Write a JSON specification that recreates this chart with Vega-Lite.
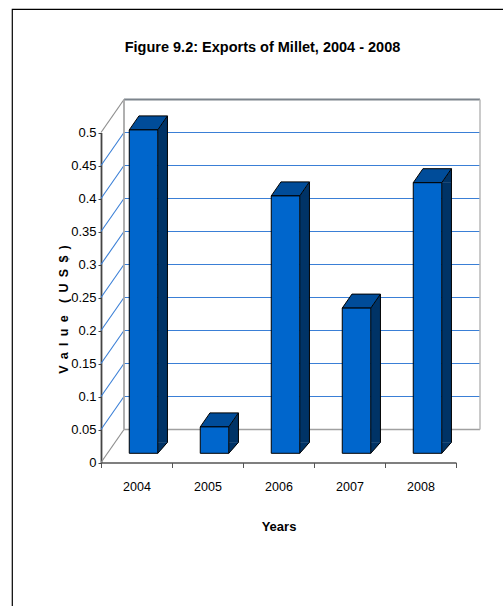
{
  "$schema": "https://vega.github.io/schema/vega-lite/v6.json",
  "width": 491,
  "height": 597,
  "autosize": {"type": "none"},
  "padding": {"left": 12, "top": 9, "right": 0, "bottom": 0},
  "background": "white",
  "title": {
    "text": "Figure 9.2: Exports of Millet, 2004 - 2008",
    "anchor": "middle",
    "frame": "group",
    "font": "Liberation Sans",
    "fontWeight": "bold",
    "fontSize": 14.5,
    "color": "black",
    "baseline": "alphabetic",
    "offset": -57,
    "dx": 5
  },
  "config": {
    "view": {"stroke": "black", "strokeWidth": 1.2, "strokeDash": [491, 1088, 597]}
  },
  "datasets": {
    "exports": [
      {"year": "2004", "value": 0.49},
      {"year": "2005", "value": 0.04},
      {"year": "2006", "value": 0.39},
      {"year": "2007", "value": 0.22},
      {"year": "2008", "value": 0.41}
    ],
    "levels": [
      {"v": 0}, {"v": 0.05}, {"v": 0.1}, {"v": 0.15}, {"v": 0.2}, {"v": 0.25},
      {"v": 0.3}, {"v": 0.35}, {"v": 0.4}, {"v": 0.45}, {"v": 0.5}
    ]
  },
  "layer": [
    {
      "data": {"name": "levels"},
      "transform": [{"filter": "datum.v > 0 && datum.v < 0.5"}],
      "mark": {"type": "rule", "color": "#3a7fd6", "strokeWidth": 1.2, "xOffset": -12.5, "x2Offset": 59.5, "yOffset": -33},
      "encoding": {
        "x": {
          "datum": "2004",
          "type": "ordinal",
          "scale": {"domain": ["2004", "2005", "2006", "2007", "2008"], "range": [89, 444], "paddingInner": 0, "paddingOuter": 0},
          "axis": {
            "orient": "bottom",
            "offset": -143.5,
            "tickBand": "extent",
            "tickSize": 5,
            "tickColor": "#555555",
            "domainColor": "#555555",
            "domainWidth": 1.5,
            "labelAngle": 0,
            "labelFont": "Liberation Sans",
            "labelFontSize": 12.5,
            "labelColor": "black",
            "labelPadding": 12.5,
            "title": "Years",
            "titleFont": "Liberation Sans",
            "titleFontWeight": "bold",
            "titleFontSize": 13,
            "titleColor": "black",
            "titleBaseline": "alphabetic",
            "titleY": 67.5
          }
        },
        "x2": {"datum": "2008"},
        "y": {
          "field": "v",
          "type": "quantitative",
          "scale": {"domain": [0, 0.5], "range": [453.5, 123.5], "nice": false, "zero": true},
          "axis": {
            "orient": "left",
            "offset": -89,
            "values": [0, 0.05, 0.1, 0.15, 0.2, 0.25, 0.3, 0.35, 0.4, 0.45, 0.5],
            "format": "~g",
            "grid": false,
            "tickSize": 3,
            "tickColor": "#444444",
            "domainColor": "#444444",
            "domainWidth": 1.8,
            "labelFont": "Liberation Sans",
            "labelFontSize": 13,
            "labelColor": "black",
            "labelPadding": 2,
            "title": "V\u2002a\u2002l\u2002u\u2002e\u2002\u2002(\u2002U\u2002S\u2002$\u2002)",
            "titleFont": "Liberation Sans",
            "titleFontWeight": "bold",
            "titleFontSize": 12.5,
            "titleColor": "black",
            "titleAngle": -90,
            "titleAlign": "center",
            "titleBaseline": "middle",
            "titleX": -38,
            "titleY": 300
          }
        }
      }
    },
    {
      "data": {"name": "levels"},
      "transform": [{"filter": "datum.v == 0.5"}],
      "mark": {"type": "rule", "color": "#7c848c", "strokeWidth": 2, "xOffset": -12.5, "x2Offset": 59.5, "yOffset": -33},
      "encoding": {
        "x": {"datum": "2004", "type": "ordinal"},
        "x2": {"datum": "2008"},
        "y": {"field": "v", "type": "quantitative"}
      }
    },
    {
      "data": {"name": "levels"},
      "transform": [{"filter": "datum.v == 0"}],
      "mark": {"type": "rule", "color": "#a0a0a0", "strokeWidth": 1.5, "xOffset": -12.5, "x2Offset": 59.5, "yOffset": -33},
      "encoding": {
        "x": {"datum": "2004", "type": "ordinal"},
        "x2": {"datum": "2008"},
        "y": {"field": "v", "type": "quantitative"}
      }
    },
    {
      "data": {"name": "levels"},
      "transform": [{"filter": "datum.v > 0 && datum.v < 0.5"}],
      "mark": {"type": "rule", "color": "#3a7fd6", "strokeWidth": 1.1, "xOffset": -35.5, "x2Offset": -12.5, "y2Offset": -33},
      "encoding": {
        "x": {"datum": "2004", "type": "ordinal"},
        "x2": {"datum": "2004"},
        "y": {"field": "v", "type": "quantitative"},
        "y2": {"field": "v"}
      }
    },
    {
      "data": {"name": "levels"},
      "transform": [{"filter": "datum.v == 0 || datum.v == 0.5"}],
      "mark": {"type": "rule", "color": "#909090", "strokeWidth": 1.2, "xOffset": -35.5, "x2Offset": -12.5, "y2Offset": -33},
      "encoding": {
        "x": {"datum": "2004", "type": "ordinal"},
        "x2": {"datum": "2004"},
        "y": {"field": "v", "type": "quantitative"},
        "y2": {"field": "v"}
      }
    },
    {
      "data": {"name": "levels"},
      "transform": [{"filter": "datum.v == 0"}],
      "mark": {"type": "rule", "color": "#a8a8a8", "strokeWidth": 1.8, "xOffset": -12.5, "yOffset": -33, "y2Offset": -33},
      "encoding": {
        "x": {"datum": "2004", "type": "ordinal"},
        "y": {"field": "v", "type": "quantitative"},
        "y2": {"datum": 0.5}
      }
    },
    {
      "data": {"name": "levels"},
      "transform": [{"filter": "datum.v == 0"}],
      "mark": {"type": "rule", "color": "#b8b8b8", "strokeWidth": 1.5, "xOffset": 59.5, "yOffset": -33, "y2Offset": -33},
      "encoding": {
        "x": {"datum": "2008", "type": "ordinal"},
        "y": {"field": "v", "type": "quantitative"},
        "y2": {"datum": 0.5}
      }
    },
    {
      "data": {"name": "exports"},
      "mark": {"type": "bar", "width": 9.7, "color": "#003366", "xOffset": 26.1, "yOffset": -9.2, "y2Offset": -20.2},
      "encoding": {
        "x": {"field": "year", "type": "ordinal"},
        "y": {"field": "value", "type": "quantitative"},
        "y2": {"datum": 0}
      }
    },
    {
      "data": {"name": "exports"},
      "mark": {"type": "point", "shape": "M0,0L9.7,-14L9.7,0Z", "size": 4, "filled": true, "opacity": 1, "color": "#003366", "stroke": "#003366", "strokeWidth": 0.5, "xOffset": 21.25, "yOffset": -9.2},
      "encoding": {
        "x": {"field": "year", "type": "ordinal"},
        "y": {"field": "value", "type": "quantitative"}
      }
    },
    {
      "data": {"name": "exports"},
      "mark": {"type": "point", "shape": "M0,0L0,-11L9.7,-11Z", "size": 4, "filled": true, "opacity": 1, "color": "#003366", "stroke": "#003366", "strokeWidth": 0.5, "xOffset": 21.25, "yOffset": -9.2},
      "encoding": {
        "x": {"field": "year", "type": "ordinal"},
        "y": {"datum": 0, "type": "quantitative"}
      }
    },
    {
      "data": {"name": "exports"},
      "mark": {"type": "rule", "color": "black", "strokeWidth": 1, "xOffset": 30.95, "yOffset": -23.2, "y2Offset": -20.2},
      "encoding": {
        "x": {"field": "year", "type": "ordinal"},
        "y": {"field": "value", "type": "quantitative"},
        "y2": {"datum": 0}
      }
    },
    {
      "data": {"name": "exports"},
      "mark": {"type": "rule", "color": "black", "strokeWidth": 1, "xOffset": 21.25, "x2Offset": 30.95, "yOffset": -9.2, "y2Offset": -20.2},
      "encoding": {
        "x": {"field": "year", "type": "ordinal"},
        "x2": {"field": "year"},
        "y": {"datum": 0, "type": "quantitative"},
        "y2": {"datum": 0}
      }
    },
    {
      "data": {"name": "exports"},
      "mark": {"type": "point", "shape": "M-14.25,0L14.25,0L23.95,-14L-4.55,-14Z", "size": 4, "filled": true, "opacity": 1, "color": "#004c99", "stroke": "black", "strokeWidth": 1, "xOffset": 7, "yOffset": -9.2},
      "encoding": {
        "x": {"field": "year", "type": "ordinal"},
        "y": {"field": "value", "type": "quantitative"}
      }
    },
    {
      "data": {"name": "exports"},
      "mark": {"type": "bar", "width": 28.5, "color": "#0066cc", "stroke": "black", "strokeWidth": 1, "xOffset": 7, "yOffset": -9.2, "y2Offset": -9.2},
      "encoding": {
        "x": {"field": "year", "type": "ordinal"},
        "y": {"field": "value", "type": "quantitative"},
        "y2": {"datum": 0}
      }
    }
  ]
}
